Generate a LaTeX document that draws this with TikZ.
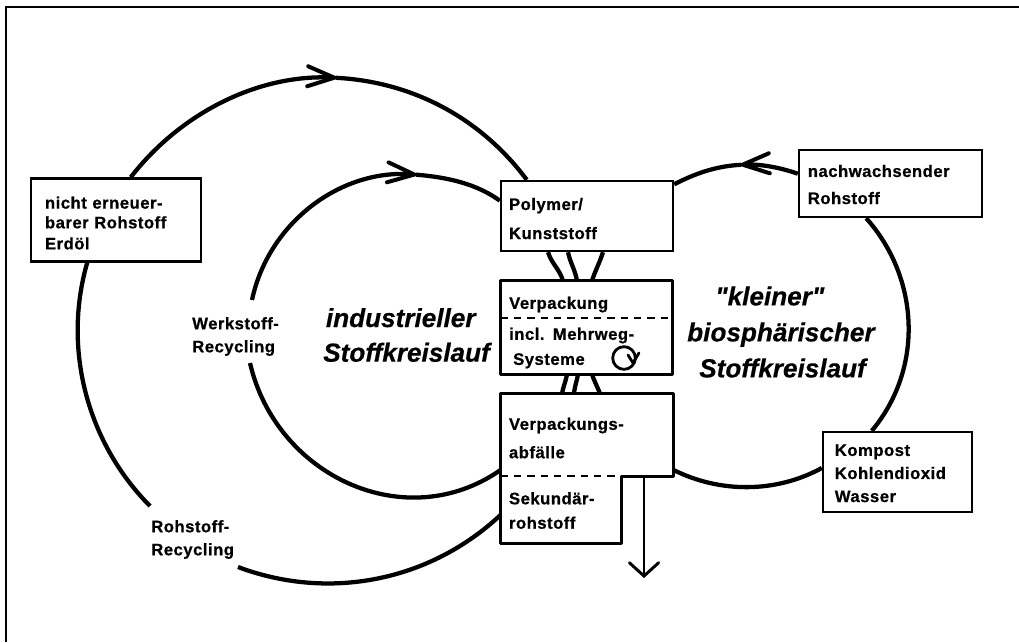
\documentclass[tikz,border=0pt]{standalone}
\usepackage{fontspec}
\usetikzlibrary{arrows.meta}
\newfontfamily\boxfont[LetterSpace=3,BoldFeatures={FakeBold=0.7}]{Liberation Sans}
\newfontfamily\loopfont[BoldItalicFeatures={FakeBold=0.5}]{Liberation Sans}
\begin{document}
\begin{tikzpicture}[
		x=0.75pt,y=-0.75pt,
		frameline/.style={line width=1.9pt},
		flowline/.style={line width=3.2pt},
		flowtip/.style={flowline,-{Straight Barb[length=20pt,width=15pt,line width=3pt,line cap=round]}},
		flowrest/.style={flowline,shorten <=-3pt},
		boxline/.style={line width=2.3pt,line join=round},
		dashline/.style={line width=1.2pt,dash pattern=on 5.5pt off 4.5pt},
		stoffbox/.style={rectangle,fill=white,inner xsep=0pt,inner ysep=0pt,align=left,
				font=\boxfont\bfseries\fontsize{12.5}{13.8}\selectfont},
		ruledbox/.style={stoffbox,draw,line width=1.8pt},
		looptext/.style={stoffbox,fill=none},
		cycletext/.style={align=left,inner sep=0pt,
				font=\loopfont\bfseries\itshape\fontsize{19.6}{23}\selectfont}
	]
	\useasboundingbox (0,0) rectangle (1019,642);
	\draw[frameline] (1019,7) -- (6,7) -- (6,642);

	\coordinate (outertip) at (340,78);
	\coordinate (innertip) at (420,175);
	\coordinate (smalltip) at (737,165);
	\coordinate (outerend) at (150,506);
	\coordinate (outerstart) at (238,567);
	\coordinate (innerend) at (252,300);
	\coordinate (innerstart) at (250,363);
	\coordinate (wasteout) at (644,578);

	\node[ruledbox,minimum width=170pt*0.75,minimum height=83pt*0.75,text width=106.5pt] (erdoel) at (116,220)
	{\rule{0pt}{13.6pt}nicht erneuer-\\[1pt]barer Rohstoff\\[2pt]Erdöl};
	\node[ruledbox,minimum width=172pt*0.75,minimum height=70pt*0.75,text width=117pt] (polymer) at (587,216)
	{\rule{0pt}{12.9pt}Polymer/\\[8pt]Kunststoff};
	\node[ruledbox,minimum width=183pt*0.75,minimum height=67pt*0.75,text width=124pt] (nachwachs) at (890.5,183.5)
	{\rule{0pt}{10.6pt}nachwachsender\\[6.5pt]Rohstoff};
	\node[ruledbox,minimum width=149pt*0.75,minimum height=80pt*0.75,text width=94pt] (kompost) at (897.5,472)
	{\rule{0pt}{10.6pt}Kompost\\[3.5pt]Kohlendioxid\\[3.5pt]Wasser};

	\node[stoffbox,minimum width=171pt*0.75,minimum height=37pt*0.75,text width=116pt] (verpackung) at (586.5,299.5)
	{\rule{0pt}{16.6pt}Verpackung};
	\node[stoffbox,minimum width=171pt*0.75,minimum height=56pt*0.75,text width=116pt] (mehrweg) at (586.5,346)
	{\rule{0pt}{12.1pt}incl. Mehrweg-\\[5pt]\hspace*{3pt}Systeme};
	\node[stoffbox,minimum width=172pt*0.75,minimum height=82pt*0.75,text width=117pt] (abfall) at (587,435)
	{\rule{0pt}{13.6pt}Verpackungs-\\[7.5pt]abfälle};
	\node[stoffbox,minimum width=120pt*0.75,minimum height=67pt*0.75,text width=78pt] (sekundaer) at (561,509.5)
	{\rule{0pt}{10.6pt}Sekundär-\\[4.5pt]rohstoff};

	\draw[boxline] (verpackung.north west) rectangle (mehrweg.south east);
	\draw[dashline] (mehrweg.north west) -- (mehrweg.north east);
	\draw[boxline] (abfall.south -| sekundaer.east) -- (abfall.south east) -- (abfall.north east)
	-- (abfall.north west) -- (sekundaer.south west) -- (sekundaer.south east) -- cycle;
	\draw[dashline] (abfall.south west) -- (abfall.south -| sekundaer.east);

	\node[circle,draw,line width=2.1pt,minimum size=17pt,inner sep=0pt] (umlauf) at (624,358) {};
	\draw[line width=2.1pt,line join=round,line cap=round] (628,355) -- (633,363) -- (639,353);

	\node[looptext,anchor=west,text width=80pt] (werkstoff) at (192,336.5)
	{Werkstoff-\\[3.5pt]Recycling};
	\node[looptext,anchor=west,text width=80pt] (rohstoff) at (151,539.5)
	{Rohstoff-\\[3.5pt]Recycling};
	\node[cycletext,anchor=west] (industriell) at (323,335)
	{\hspace*{2pt}industrieller\\[3pt]Stoffkreislauf};
	\node[cycletext,align=left,anchor=west] (biosphaere) at (687,332)
	{\hspace*{21pt}"kleiner"\\[4pt]biosphärischer\\[4pt]\hspace*{9pt}Stoffkreislauf};

	\draw[flowtip] (erdoel.71.6) to[out=52.3,in=177,looseness=.9] (outertip);
	\draw[flowrest] (outertip) to[out=-3,in=126.7,looseness=.9] (polymer.149.7);
	\draw[flowline] (erdoel.-124.3) to[out=253.9,in=134.8,looseness=.91] (outerend);
	\draw[flowline] (outerstart) to[out=339.4,in=223.2,looseness=.93] (sekundaer.185.2);

	\draw[flowtip] (innerend) to[out=78,in=175.3,looseness=.97] (innertip);
	\draw[flowrest] (innertip) to[out=-4.7,in=144.3,looseness=.87] (polymer.170.7);
	\draw[flowline] (innerstart) to[out=283,in=215,looseness=1.09] (abfall.202);

	\draw[flowtip] (nachwachs.174.7) to[out=160.3,in=3,looseness=.87] (smalltip);
	\draw[flowrest] (smalltip) to[out=183,in=26.9,looseness=.87] (polymer.20.4);
	\draw[flowline] (nachwachs.-125) to[out=-48.3,in=50,looseness=.97] (kompost.122.5);
	\draw[flowline] (kompost.177.7) to[out=-151.4,in=-26.6,looseness=.9] (abfall.-22);

	\draw[flowline] (polymer.south -| 548,0) to[out=-72,in=107] (verpackung.north -| 563,0);
	\draw[flowline] (polymer.south -| 568,0) to[out=-78,in=100] (verpackung.north -| 577,0);
	\draw[flowline] (polymer.south -| 603,0) to[out=-108,in=72] (verpackung.north -| 592,0);
	\draw[flowline] (mehrweg.south -| 567,0) to[out=-100,in=80] (abfall.north -| 562,0);
	\draw[flowline] (mehrweg.south -| 578,0) to[out=-100,in=85] (abfall.north -| 574,0);
	\draw[flowline] (mehrweg.south -| 592,0) to[out=-72,in=110] (abfall.north -| 600,0);

	\draw[line width=2.2pt,-{Straight Barb[length=10pt,width=22pt,line width=2.2pt,line cap=round]}] (abfall.south -| wasteout) -- (wasteout);
\end{tikzpicture}
\end{document}
